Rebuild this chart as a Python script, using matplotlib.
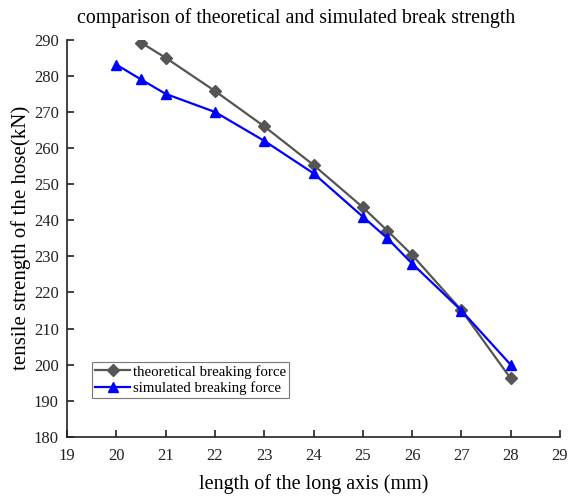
import matplotlib
matplotlib.use("Agg")
import matplotlib.pyplot as plt

plt.rcParams['font.family'] = ['Liberation Serif', 'DejaVu Serif']

# data
x_theo = [20.5, 21, 22, 23, 24, 25, 25.5, 26, 27, 28]
y_theo = [289.2, 285.0, 275.8, 266.0, 255.3, 243.6, 237.1, 230.4, 215.1, 196.2]
x_sim = [20, 20.5, 21, 22, 23, 24, 25, 25.5, 26, 27, 28]
y_sim = [283.1, 279.0, 275.0, 270.0, 262.0, 253.0, 241.0, 235.0, 228.0, 215.0, 200.0]

fig = plt.figure(figsize=(5.69, 4.97), dpi=100)
ax = fig.add_axes([0.118, 0.121, 0.866, 0.799])

ax.plot(x_theo, y_theo, color='#555555', marker='D', markersize=6, linewidth=1.6,
        label='theoretical breaking force')
ax.plot(x_sim, y_sim, color='#0000ff', marker='^', markersize=7.5, linewidth=1.6,
        label='simulated breaking force')

ax.set_xlim(19, 29)
ax.set_ylim(180, 290)
ax.set_xticks(range(19, 30))
ax.set_yticks(range(180, 291, 10))
ax.spines['top'].set_visible(False)
ax.spines['right'].set_visible(False)
for s in ('left', 'bottom'):
    ax.spines[s].set_linewidth(1.2)
    ax.spines[s].set_color('#222222')
ax.tick_params(direction='in', length=5, width=1.2, labelsize=12, colors='#222222')
ax.tick_params(axis='y', pad=6)
ax.tick_params(axis='x', pad=8)

ax.set_xlabel('length of the long axis (mm)', fontsize=14.5, labelpad=7)
ax.set_ylabel('tensile strength of the hose(kN)', fontsize=15, labelpad=2)
fig.text(0.52, 0.964, 'comparison of theoretical and simulated break strength',
         ha='center', va='center', fontsize=14.3)

leg = ax.legend(loc='upper left', bbox_to_anchor=(0.05, 0.189), fontsize=10.7,
                frameon=True, fancybox=False, handlelength=2.4, borderpad=0.2,
                labelspacing=0.2, handletextpad=0.2, borderaxespad=0)
leg.get_frame().set_edgecolor('#555555')
leg.get_frame().set_linewidth(0.8)

fig.savefig('out.png', dpi=100)
